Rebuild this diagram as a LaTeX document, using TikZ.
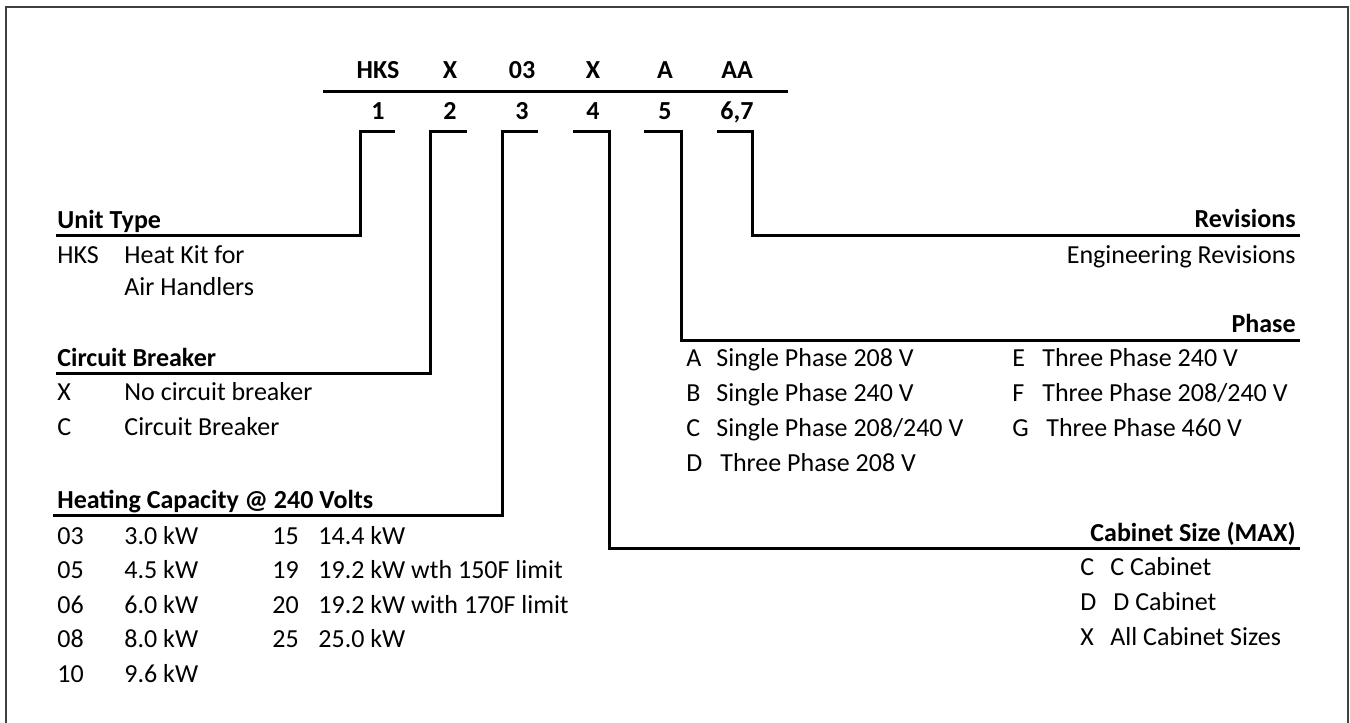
\documentclass[tikz,border=0pt]{standalone}
\usepackage{fontspec}
\setmainfont{Carlito}
\usetikzlibrary{positioning,calc}

\begin{document}
\fontsize{13}{15}\selectfont
\begin{tikzpicture}[x=0.5pt,y=-0.5pt,
    code/.style={font=\bfseries, inner sep=0pt, anchor=base},
    head/.style={font=\bfseries, inner sep=0pt},
    item/.style={inner sep=0pt, anchor=base west},
    wire/.style={line width=1.5pt},
    frame/.style={line width=1pt, draw=black!75}]
    \useasboundingbox (0,0) rectangle (1350,723);

    % Outer frame (bottom edge is cut off)
    \draw[frame] (6,730) -- (6,7) -- (1348,7) -- (1348,730);

    % Model number and digit positions
    \foreach \c/\d/\x [count=\i] in {HKS/1/378, X/2/450, 03/3/522, X/4/593, A/5/665, AA/{6,7}/737}{
        \node[code] (c\i) at (\x,78) {\c};
        \node[code] (d\i) at (\x,119) {\d};
    }
    \coordinate (rl) at (323,91);
    \coordinate (rr) at (788,91);
    \draw[wire] (rl) -- (rr);

    % Hook ends under the digits
    \coordinate (h1) at (395,131);
    \coordinate (h2) at (467,131);
    \coordinate (h3) at (538,131);
    \coordinate (h4) at (573,131);
    \coordinate (h5) at (644,131);
    \coordinate (h6) at (717,131);

    % Heading rule ends
    \coordinate (unitL) at (56,235);
    \coordinate (brkL) at (56,373);
    \coordinate (heatL) at (53,515);
    \coordinate (revR) at (1300,235);
    \coordinate (phR) at (1300,340);
    \coordinate (cabR) at (1300,548);

    % Connectors
    \draw[wire] (h1) -- ++(-35,0) |- (unitL);
    \draw[wire] (h2) -- ++(-37,0) |- (brkL);
    \draw[wire] (h3) -- ++(-36,0) |- (heatL);
    \draw[wire] (h4) -- ++(36,0) |- (cabR);
    \draw[wire] (h5) -- ++(37,0) |- (phR);
    \draw[wire] (h6) -- ++(35,0) |- (revR);

    % Unit type
    \node[head, anchor=base west] (unit) at (57,228) {Unit Type};
    \node[item] (hks) at (57,263) {HKS};
    \node[item] (hkst) at (124,263) {Heat Kit for};
    \node[item] (hkst2) at (124,295) {Air Handlers};

    % Circuit breaker
    \node[head, anchor=base west] (brk) at (57,366) {Circuit Breaker};
    \node[item] (brkx) at (57,400) {X};
    \node[item] (brkxt) at (124,400) {No circuit breaker};
    \node[item] (brkc) at (57,435) {C};
    \node[item] (brkct) at (124,435) {Circuit Breaker};

    % Heating capacity
    \node[head, anchor=base west] (heat) at (57,508) {Heating Capacity @ 240 Volts};
    \foreach \k/\v [count=\i from 0] in {03/3.0 kW, 05/4.5 kW, 06/6.0 kW, 08/8.0 kW, 10/9.6 kW}{
        \node[item] (hk\i) at (57,544+34.6*\i) {\k};
        \node[item] (hv\i) at (124,544+34.6*\i) {\v};
    }
    \foreach \k/\v [count=\i from 0] in {15/14.4 kW, 19/19.2 kW wth 150F limit, 20/19.2 kW with 170F limit, 25/25.0 kW}{
        \node[item] (hkb\i) at (272,544+34.6*\i) {\k};
        \node[item] (hvb\i) at (318,544+34.6*\i) {\v};
    }

    % Revisions
    \node[head, anchor=base east] (rev) at (1296,227) {Revisions};
    \node[inner sep=0pt, anchor=base east] (revt) at (1296,263) {Engineering Revisions};

    % Phase
    \node[head, anchor=base east] (ph) at (1296,332) {Phase};
    \foreach \k/\v/\t [count=\i from 0] in {A/Single Phase 208 V/716, B/Single Phase 240 V/716, C/Single Phase 208\slash 240 V/716, D/Three Phase 208 V/720}{
        \node[item] (pk\i) at (686,366+35*\i) {\k};
        \node[item] (pv\i) at (\t,366+35*\i) {\v};
    }
    \foreach \k/\v/\t [count=\i from 0] in {E/Three Phase 240 V/1042, F/Three Phase 208\slash 240 V/1042, G/Three Phase 460 V/1046}{
        \node[item] (pkb\i) at (1012,366+35*\i) {\k};
        \node[item] (pvb\i) at (\t,366+35*\i) {\v};
    }

    % Cabinet size
    \node[head, anchor=base east] (cab) at (1296,541) {Cabinet Size (MAX)};
    \foreach \k/\v/\t [count=\i from 0] in {C/C Cabinet/1110, D/D Cabinet/1113, X/All Cabinet Sizes/1110}{
        \node[item] (ck\i) at (1080,575+35*\i) {\k};
        \node[item] (cv\i) at (\t,575+35*\i) {\v};
    }
\end{tikzpicture}
\end{document}
